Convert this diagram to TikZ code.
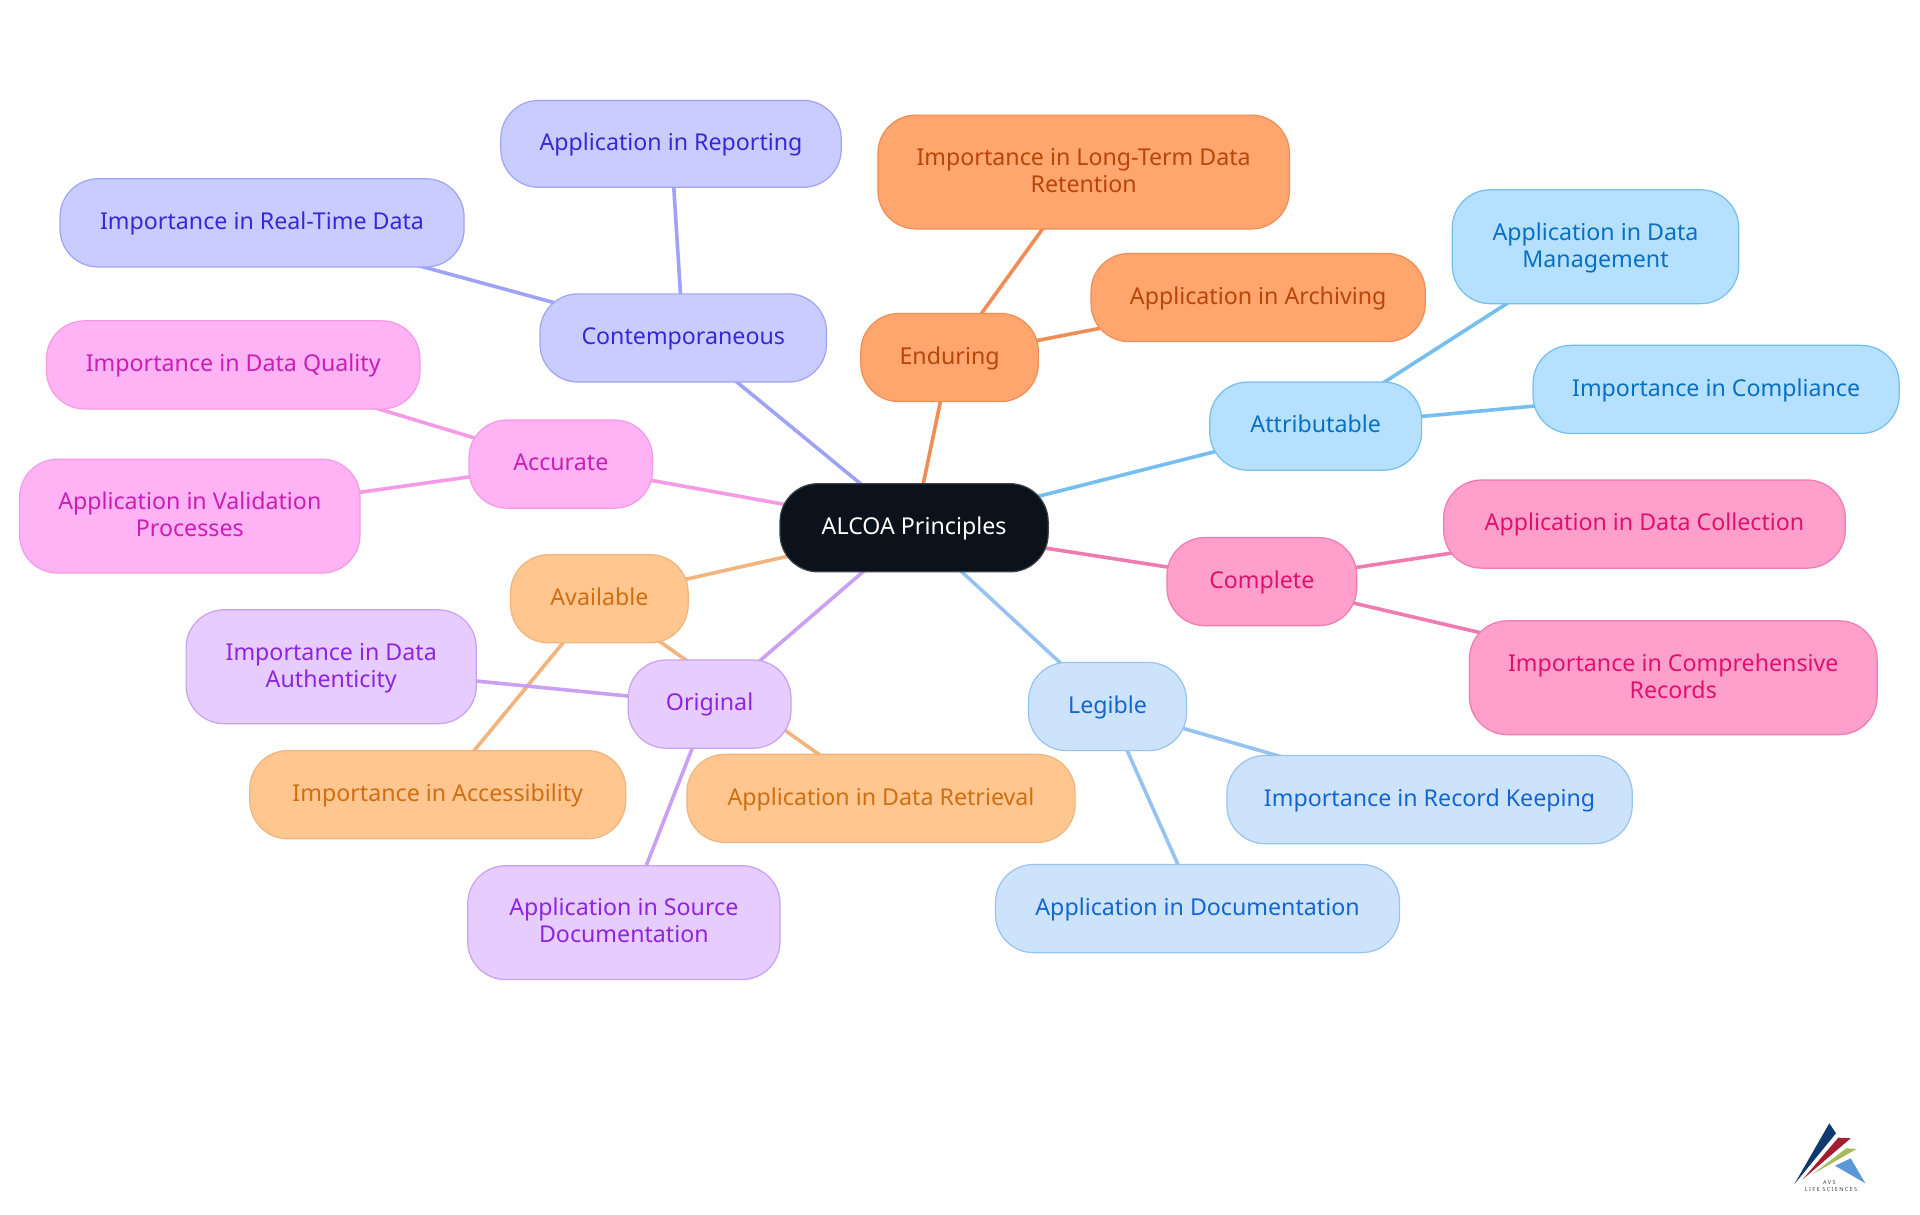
\documentclass[tikz,border=0pt]{standalone}
\usepackage{fontspec}
\setmainfont{Noto Sans}
\newfontfamily\logofont{Noto Sans}[LetterSpace=25]
\usetikzlibrary{backgrounds}
\definecolor{rootc}{HTML}{0B121B}
\definecolor{purF}{HTML}{E6CCFF}\definecolor{purT}{HTML}{8E24E0}\definecolor{purE}{HTML}{C9A0F2}
\definecolor{oraF}{HTML}{FFC68F}\definecolor{oraT}{HTML}{CF6E12}\definecolor{oraE}{HTML}{F0B47C}
\definecolor{pinF}{HTML}{FFB3F5}\definecolor{pinT}{HTML}{C81EB4}\definecolor{pinE}{HTML}{F59BE6}
\definecolor{indF}{HTML}{C9CCFF}\definecolor{indT}{HTML}{3A26D6}\definecolor{indE}{HTML}{A0A3F5}
\definecolor{deoF}{HTML}{FFA66E}\definecolor{deoT}{HTML}{B8450A}\definecolor{deoE}{HTML}{EE8E55}
\definecolor{skyF}{HTML}{B5E0FF}\definecolor{skyT}{HTML}{0870C0}\definecolor{skyE}{HTML}{74BFF0}
\definecolor{hotF}{HTML}{FFA0CC}\definecolor{hotT}{HTML}{E0106E}\definecolor{hotE}{HTML}{F07BB0}
\definecolor{lblF}{HTML}{CDE3FC}\definecolor{lblT}{HTML}{1266CE}\definecolor{lblE}{HTML}{96C3F2}
\definecolor{logoA}{HTML}{0E3A70}\definecolor{logoB}{HTML}{A31C32}\definecolor{logoC}{HTML}{A8BC5C}\definecolor{logoD}{HTML}{5C98D8}
\tikzset{
  mm/.style={rounded corners=38pt,inner sep=0pt,outer sep=0pt,align=center,line width=1.2pt,font=\fontsize{23.2}{27}\selectfont},
  rootn/.style={mm,fill=rootc,draw=rootc!80!white,text=white},
  pur/.style={mm,fill=purF,draw=purE,text=purT},
  ora/.style={mm,fill=oraF,draw=oraE,text=oraT},
  pin/.style={mm,fill=pinF,draw=pinE,text=pinT},
  ind/.style={mm,fill=indF,draw=indE,text=indT},
  deo/.style={mm,fill=deoF,draw=deoE,text=deoT},
  sky/.style={mm,fill=skyF,draw=skyE,text=skyT},
  hot/.style={mm,fill=hotF,draw=hotE,text=hotT},
  lbl/.style={mm,fill=lblF,draw=lblE,text=lblT},
  conn/.style={line width=3.6pt},
  logotext/.style={inner sep=0pt,font=\logofont\fontsize{5.5}{6}\selectfont,text=black!75}
}
\newcommand{\tstrut}{\rule[-6.7pt]{0pt}{27pt}}
\newcommand{\mn}[7]{%
  \pgfmathsetmacro\nw{(#5-#3)*1.2245}\pgfmathsetmacro\nh{(#6-#4)*1.2245}%
  \node[#2,minimum width=\nw pt,minimum height=\nh pt] (#1) at ({(#3+#5)/2},{(#4+#6)/2}) {\tstrut #7\tstrut};}
\begin{document}
\begin{tikzpicture}[x=1.2245pt,y=-1.2245pt]
\useasboundingbox (0,0) rectangle (1568,992.25);
\mn{root}{rootn}{637}{395}{856}{467}{ALCOA Principles}
\mn{con}{ind}{441}{240}{675}{312}{Contemporaneous}
\mn{conrep}{ind}{409}{82}{687}{153}{Application in Reporting}
\mn{conrt}{ind}{49}{146}{379}{218}{Importance in Real-Time Data}
\mn{end}{deo}{703}{256}{848}{328}{Enduring}
\mn{endlt}{deo}{717}{94}{1053}{187}{Importance in Long-Term Data\\Retention}
\mn{endar}{deo}{891}{207}{1164}{279}{Application in Archiving}
\mn{att}{sky}{988}{312}{1161}{384}{Attributable}
\mn{attdm}{sky}{1186}{155}{1420}{248}{Application in Data\\Management}
\mn{attco}{sky}{1252}{282}{1551}{354}{Importance in Compliance}
\mn{com}{hot}{953}{439}{1108}{511}{Complete}
\mn{comdc}{hot}{1179}{392}{1507}{464}{Application in Data Collection}
\mn{comcr}{hot}{1200}{507}{1533}{600}{Importance in Comprehensive\\Records}
\mn{leg}{lbl}{840}{541}{969}{613}{Legible}
\mn{legrk}{lbl}{1002}{617}{1333}{689}{Importance in Record Keeping}
\mn{legdo}{lbl}{813}{706}{1143}{778}{Application in Documentation}
\mn{ori}{pur}{513}{539}{646}{611}{Original}
\mn{oriau}{pur}{152}{498}{389}{591}{Importance in Data\\Authenticity}
\mn{orisd}{pur}{382}{707}{637}{800}{Application in Source\\Documentation}
\mn{ava}{ora}{417}{453}{562}{525}{Available}
\mn{avaac}{ora}{204}{613}{511}{685}{Importance in Accessibility}
\mn{avadr}{ora}{561}{616}{878}{688}{Application in Data Retrieval}
\mn{acc}{pin}{383}{343}{533}{415}{Accurate}
\mn{accdq}{pin}{38}{262}{343}{334}{Importance in Data Quality}
\mn{accvp}{pin}{16}{375}{294}{468}{Application in Validation\\Processes}
\begin{pgfonlayer}{background}
\fill[white] (0,0) rectangle (1568,992.25);
\draw[conn,indE] (root.center)--(con.center) (con.center)--(conrep.center) (con.center)--(conrt.center);
\draw[conn,deoE] (root.center)--(end.center) (end.center)--(endlt.center) (end.center)--(endar.center);
\draw[conn,skyE] (root.center)--(att.center) (att.center)--(attdm.center) (att.center)--(attco.center);
\draw[conn,hotE] (root.center)--(com.center) (com.center)--(comdc.center) (com.center)--(comcr.center);
\draw[conn,lblE] (root.center)--(leg.center) (leg.center)--(legrk.center) (leg.center)--(legdo.center);
\draw[conn,oraE] (root.center)--(ava.center) (ava.center)--(avaac.center) (ava.center)--(avadr.center);
\draw[conn,purE] (root.center)--(ori.center) (ori.center)--(oriau.center) (ori.center)--(orisd.center);
\draw[conn,pinE] (root.center)--(acc.center) (acc.center)--(accdq.center) (acc.center)--(accvp.center);
\end{pgfonlayer}
% logo
\fill[logoA] (1465.3,967.2) -- (1493.9,917.4) -- (1499.4,925.5) -- cycle;
\fill[logoB] (1472.2,963.1) -- (1501.3,929.1) -- (1511.4,929.6) -- cycle;
\fill[logoC] (1480.4,958.8) -- (1507.6,937.8) -- (1516.3,938.3) -- cycle;
\fill[logoD] (1498.6,952) -- (1511.4,946) -- (1523.4,966.4) -- cycle;
\node[logotext] (logoa) at (1494,965.8) {AVS};
\node[logotext] (logob) at (1495.3,971.2) {LIFE SCIENCES};
\end{tikzpicture}
\end{document}
